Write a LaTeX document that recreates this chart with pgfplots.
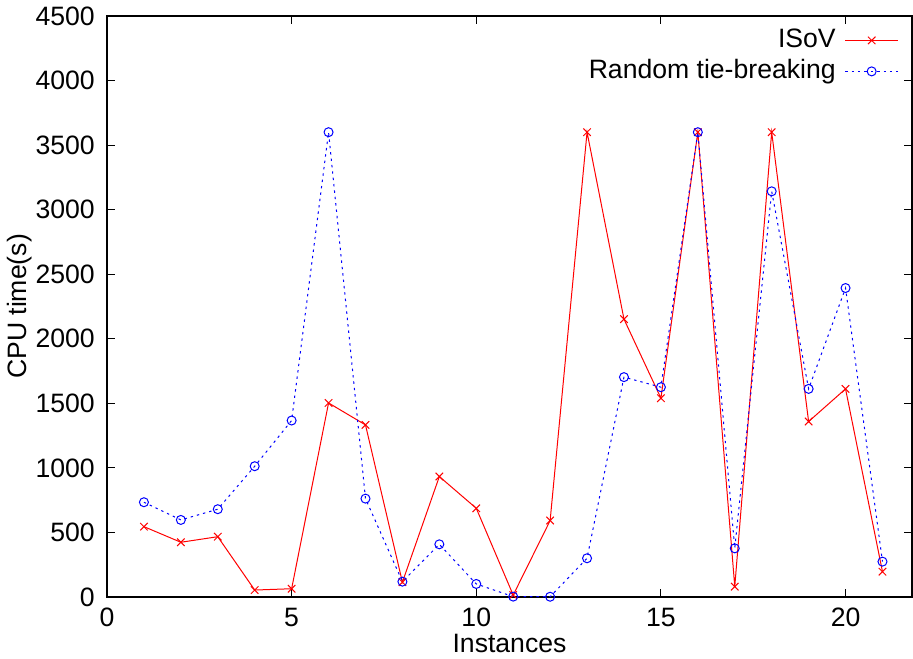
\documentclass[border=0pt]{standalone}
\usepackage{fontspec}
\setmainfont{Liberation Sans}
\usepackage{pgfplots}
\pgfplotsset{compat=1.18}
\begin{document}
\fontsize{13.3}{16}\selectfont
\begin{tikzpicture}
\begin{axis}[
  name=ax,
  scale only axis,
  width=402.5pt, height=290.5pt,
  xmin=0, xmax=21.8, ymin=0, ymax=4500,
  xtick={0,5,10,15,20},
  ytick={0,500,...,4500},
  tick align=inside,
  major tick length=4pt,
  every tick/.style={black, line width=0.5pt},
  axis line style={line width=0.9pt},
  /pgf/number format/assume math mode=true,
  scaled y ticks=false,
  yticklabel style={/pgf/number format/set thousands separator={}, xshift=-1.5pt},
  xticklabel style={yshift=-1pt},
  xlabel={Instances}, ylabel={CPU time(s)},
  xlabel style={at={([yshift=-23pt]axis description cs:0.5,0)}, anchor=center},
  ylabel style={at={([xshift=-43.5pt]axis description cs:0,0.5)}, anchor=center, rotate=0},
  legend style={draw=none, fill=none, at={([xshift=-6.5pt,yshift=-4.8pt]rel axis cs:1,1)}, anchor=north east, cells={anchor=east}, row sep=1.1pt, column sep=3.5pt, inner sep=0pt, nodes={inner sep=1pt, text height=9.6pt, text depth=2.8pt}},
  legend plot pos=right,
  legend image code/.code={\draw[mark repeat=2,mark phase=2,#1] plot coordinates {(0cm,0cm)(0.465cm,0cm)(0.93cm,0cm)};},
]
\addplot[red, line width=0.5pt, mark=x, mark size=2.65pt, mark options={solid}] coordinates {
(1,545)(2,424)(3,467)(4,54)(5,64)(6,1503)(7,1333)(8,115)(9,933)(10,687)(11,15)(12,592)(13,3600)(14,2152)(15,1540)(16,3600)(17,80)(18,3600)(19,1359)(20,1612)(21,196)};
\addlegendentry{ISoV}
\addplot[blue, line width=0.5pt, dash pattern=on 1.2pt off 2pt, mark=o, mark size=2.25pt, mark options={solid}] coordinates {
(1,734)(2,597)(3,680)(4,1013)(5,1367)(6,3600)(7,762)(8,119)(9,408)(10,101)(11,3)(12,2)(13,300)(14,1703)(15,1625)(16,3600)(17,377)(18,3142)(19,1612)(20,2393)(21,274)};
\addlegendentry{Random tie-breaking}
\end{axis}
\pgfresetboundingbox
\path ([shift={(-53.5pt,-30.5pt)}]ax.south west) rectangle ([shift={(0.5pt,8pt)}]ax.north east);
\end{tikzpicture}
\end{document}
